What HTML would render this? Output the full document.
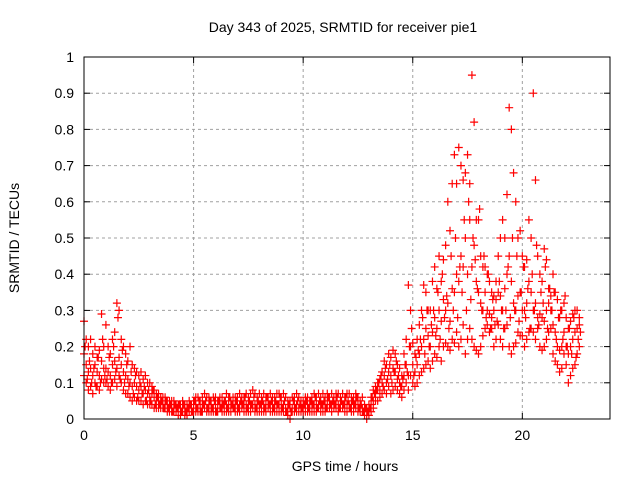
<!DOCTYPE html>
<html><head><meta charset="utf-8"><style>
body{margin:0;background:#fff}
svg text{font-family:"Liberation Sans",sans-serif;font-size:14px;fill:#000}
</style></head><body>
<svg id="chart" width="640" height="480" xmlns="http://www.w3.org/2000/svg">
<rect width="640" height="480" fill="#fff"/>
<text x="343" y="32" text-anchor="middle">Day 343 of 2025, SRMTID for receiver pie1</text>
<text x="345" y="471" text-anchor="middle">GPS time / hours</text>
<text transform="translate(19,238) rotate(-90)" text-anchor="middle">SRMTID / TECUs</text>
<g id="grid"></g>
<g id="ticks"></g>
<g id="points"></g>
<rect x="84" y="57" width="526" height="362" fill="none" stroke="#000" stroke-width="1"/>
</svg>
<script>
const xTicks=[0,5,10,15,20];
const yTicks=[0,0.1,0.2,0.3,0.4,0.5,0.6,0.7,0.8,0.9,1];
const yTickLabels=["0","0.1","0.2","0.3","0.4","0.5","0.6","0.7","0.8","0.9","1"];
const hourStart=0, hourStep=0.1;
const srmtidLow=[.12,.10,.08,.09,.07,.10,.09,.08,.11,.10,.1,.09,.08,.1,.11,.09,.12,.1,.08,.07,.07,.06,.05,.06,.05,.05,.05,.04,.05,.04,.04,.04,.03,.03,.03,.03,.03,.03,.02,.02,.02,.02,.02,.01,.01,.02,.01,.01,.02,.02,.02,.02,.02,.02,.02,.03,.02,.02,.02,.02,.02,.02,.03,.02,.02,.02,.02,.02,.03,.02,.02,.02,.03,.02,.02,.02,.02,.03,.02,.02,.02,.02,.02,.02,.03,.02,.02,.02,.02,.02,.02,.02,.02,.01,0,.02,.02,.02,.02,.02,.02,.02,.02,.02,.02,.02,.02,.03,.02,.02,.02,.03,.03,.02,.03,.03,.02,.03,.03,.02,.02,.03,.02,.02,.03,.02,.02,.02,.01,0,.01,.02,.03,.05,.05,.06,.07,.08,.07,.09,.07,.08,.09,.08,.07,.06,.08,.1,.08,.12,.1,.09,.1,.12,.13,.14,.15,.16,.14,.16,.18,.17,.2,.16,.2,.21,.2,.19,.22,.21,.24,.2,.22,.26,.18,.22,.25,.22,.2,.19,.18,.2,.23,.25,.26,.24,.25,.2,.22,.26,.22,.2,.25,.26,.2,.18,.2,.21,.24,.23,.23,.2,.22,.24,.25,.24,.22,.25,.2,.19,.2,.22,.24,.25,.18,.16,.15,.13,.14,.18,.15,.1,.12,.14,.15,.18,.2];
const srmtidMid=[.18,.15,.13,.14,.12,.15,.13,.12,.16,.14,.14,.13,.12,.15,.16,.14,.17,.15,.13,.12,.11,.1,.09,.1,.09,.08,.09,.07,.08,.07,.06,.07,.06,.05,.05,.05,.04,.04,.04,.04,.03,.03,.03,.03,.02,.03,.03,.02,.03,.03,.03,.04,.03,.04,.04,.04,.03,.04,.04,.03,.04,.03,.04,.04,.03,.04,.04,.03,.04,.04,.04,.04,.04,.04,.04,.04,.04,.04,.04,.04,.04,.04,.04,.04,.04,.04,.04,.04,.04,.04,.04,.04,.03,.03,.03,.03,.04,.04,.03,.03,.03,.04,.04,.03,.04,.04,.04,.04,.04,.04,.04,.05,.04,.04,.05,.05,.04,.05,.04,.04,.04,.04,.04,.04,.05,.04,.03,.03,.02,.01,.02,.04,.05,.07,.08,.08,.1,.12,.1,.13,.12,.14,.13,.11,.1,.09,.12,.15,.12,.2,.15,.13,.15,.18,.2,.22,.25,.23,.2,.24,.28,.25,.3,.27,.33,.3,.32,.27,.36,.35,.4,.38,.45,.42,.5,.4,.55,.42,.48,.38,.35,.32,.3,.35,.3,.29,.28,.3,.33,.35,.34,.3,.36,.4,.45,.38,.32,.3,.34,.35,.3,.3,.32,.38,.35,.3,.32,.28,.29,.28,.27,.3,.32,.34,.26,.24,.2,.19,.2,.24,.2,.18,.2,.22,.24,.25,.26];
const srmtidHigh=[.27,.22,.2,.22,.18,.2,.17,.19,.29,.2,.26,.2,.18,.22,.24,.32,.3,.22,.2,.18,.16,.2,.15,.14,.13,.12,.13,.11,.12,.1,.1,.09,.08,.07,.07,.06,.06,.06,.05,.05,.05,.05,.04,.04,.04,.05,.04,.04,.05,.04,.05,.06,.06,.05,.06,.07,.06,.06,.05,.06,.06,.05,.06,.06,.05,.07,.06,.05,.06,.06,.06,.07,.06,.06,.07,.06,.07,.08,.07,.06,.07,.06,.07,.06,.06,.07,.06,.06,.07,.07,.06,.07,.06,.05,.05,.06,.06,.07,.06,.05,.05,.06,.06,.05,.06,.07,.06,.07,.06,.07,.06,.07,.06,.07,.06,.07,.07,.06,.07,.06,.07,.07,.06,.06,.07,.06,.05,.06,.04,.03,.04,.06,.08,.09,.1,.11,.13,.16,.15,.18,.17,.19,.18,.15,.14,.12,.18,.22,.37,.3,.21,.18,.22,.26,.3,.37,.35,.3,.3,.38,.42,.36,.45,.38,.44,.48,.6,.52,.65,.73,.65,.75,.7,.66,.68,.73,.65,.95,.82,.55,.55,.45,.42,.42,.4,.38,.35,.34,.38,.45,.5,.55,.5,.62,.86,.8,.68,.6,.5,.52,.45,.42,.44,.55,.5,.9,.66,.45,.4,.38,.47,.44,.36,.3,.4,.35,.33,.28,.3,.32,.28,.25,.27,.29,.3,.3,.28];
const srmtidHalf=[.2,.11,.16,.1,.14,.09,.17,.1,.22,.12,.11,.17,.1,.2,.13,.28,.11,.19,.1,.15,.09,.13,.07,.12,.06,.1,.07,.09,.05,.08,.05,.08,.04,.06,.04,.05,.03,.05,.03,.04,.02,.04,.03,.04,.02,.04,.02,.03,.04,.02,.05,.03,.05,.02,.04,.05,.03,.05,.03,.05,.02,.05,.03,.04,.05,.03,.06,.04,.03,.05,.03,.05,.04,.06,.03,.05,.04,.06,.03,.05,.04,.05,.03,.06,.04,.05,.03,.05,.04,.06,.03,.05,.02,.04,.02,.05,.03,.05,.04,.03,.04,.05,.03,.05,.04,.06,.03,.05,.04,.05,.03,.06,.04,.05,.04,.06,.03,.05,.04,.06,.05,.03,.05,.04,.06,.03,.04,.02,.03,.02,.03,.06,.07,.08,.1,.12,.09,.14,.11,.15,.1,.13,.16,.12,.09,.11,.15,.13,.2,.25,.12,.17,.19,.22,.28,.18,.3,.2,.26,.3,.23,.35,.22,.4,.28,.34,.25,.45,.3,.5,.28,.42,.35,.55,.3,.6,.33,.5,.44,.36,.58,.3,.45,.28,.4,.25,.33,.26,.27,.38,.3,.25,.3,.42,.28,.5,.3,.45,.27,.35,.42,.28,.36,.25,.4,.3,.48,.26,.35,.32,.42,.25,.36,.3,.35,.22,.28,.3,.22,.34,.2,.25,.18,.28,.17,.22,.24];
const X0=84,X1=610,Y0=419,Y1=57,XMAX=24;
const xs=h=>X0+(h/XMAX)*(X1-X0);
const ys=v=>Y0-v*(Y0-Y1);
const NS="http://www.w3.org/2000/svg";
const grid=document.getElementById('grid'),ticks=document.getElementById('ticks'),pts=document.getElementById('points');
function mk(tag,attrs,parent){const e=document.createElementNS(NS,tag);for(const k in attrs)e.setAttribute(k,attrs[k]);parent.appendChild(e);return e;}
yTicks.forEach((v,i)=>{
  const y=ys(v);
  if(v>0&&v<1){const g=mk('line',{x1:X0,x2:X1,y1:y,y2:y,stroke:'#a0a0a0','stroke-dasharray':'3,3'},grid);
  
  }
  mk('line',{x1:X0,x2:X0+6,y1:y,y2:y,stroke:'#000'},ticks);
  mk('line',{x1:X1,x2:X1-6,y1:y,y2:y,stroke:'#000'},ticks);
  const t=mk('text',{x:X0-10,y:y+5,'text-anchor':'end'},ticks);t.textContent=yTickLabels[i];
  
  
});
xTicks.forEach(h=>{
  const x=xs(h);
  if(h>0){const g=mk('line',{x1:x,x2:x,y1:Y1,y2:Y0,stroke:'#a0a0a0','stroke-dasharray':'3,3'},grid);
  
  }
  mk('line',{x1:x,x2:x,y1:Y0,y2:Y0-6,stroke:'#000'},ticks);
  mk('line',{x1:x,x2:x,y1:Y1,y2:Y1+6,stroke:'#000'},ticks);
  const t=mk('text',{x:x,y:Y0+21,'text-anchor':'middle'},ticks);t.textContent=String(h);
  
  
});
let d='';
function addSeries(arr,offset){
  arr.forEach((v,i)=>{
    const x=xs(hourStart+i*hourStep+offset),y=ys(v);
    d+=`M${x-4},${y}h8M${x},${y-4}v8`;
  });
}
addSeries(srmtidLow,0);
addSeries(srmtidMid,0);
addSeries(srmtidHigh,0);
addSeries(srmtidHalf,hourStep/2);
const p=mk('path',{d:d,stroke:'#ff0000','stroke-width':1.2,fill:'none'},pts);


</script>
</body></html>
